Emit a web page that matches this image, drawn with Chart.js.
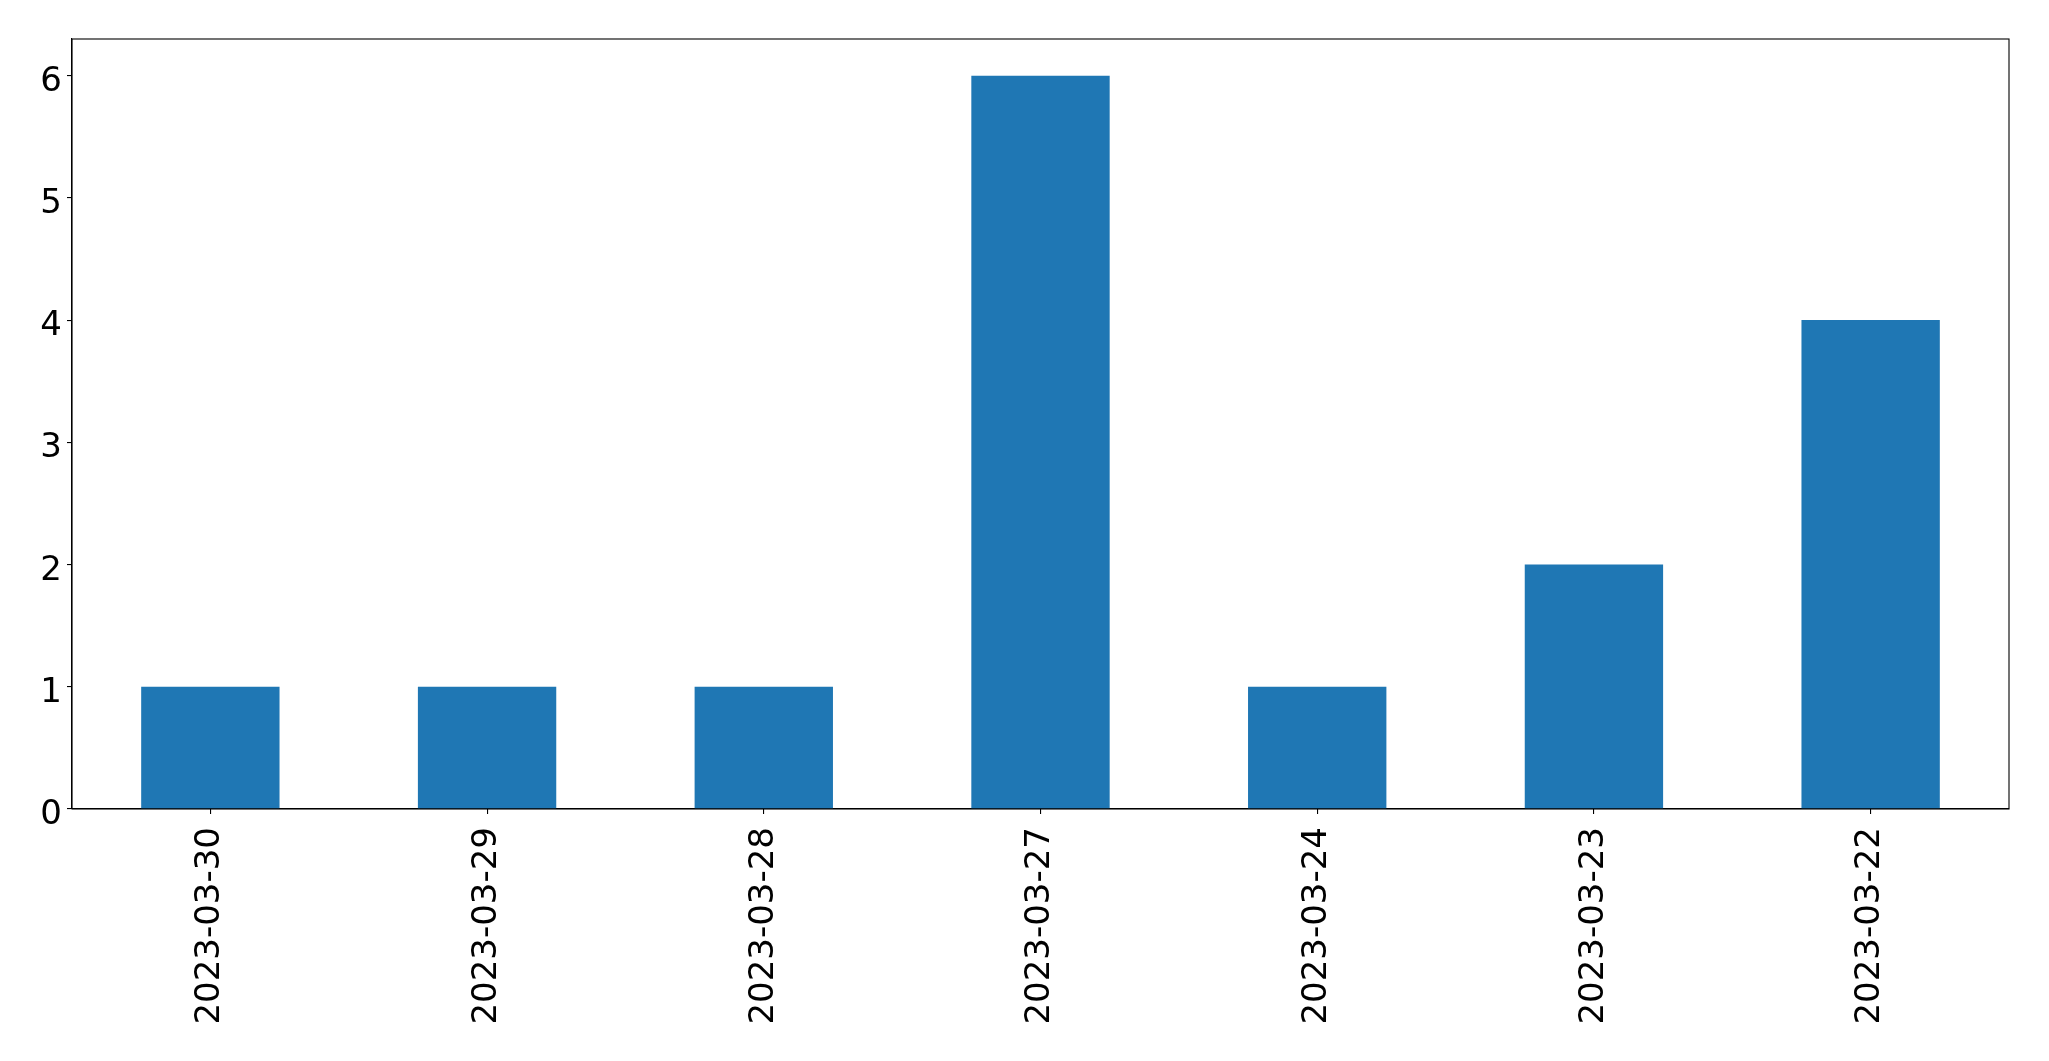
<!DOCTYPE html>
<html>
<head>
<meta charset="utf-8">
<script src="https://cdn.jsdelivr.net/npm/chart.js@4/dist/chart.umd.min.js"></script>
<style>
  html, body { margin: 0; padding: 0; background: #fff; }
  #wrap { width: 2049px; height: 1061px; }
</style>
</head>
<body>
<div id="wrap"><canvas id="chart" width="2049" height="1061"></canvas></div>
<script>
const dates = ['2023-03-30', '2023-03-29', '2023-03-28', '2023-03-27', '2023-03-24', '2023-03-23', '2023-03-22'];
const counts = [1, 1, 1, 6, 1, 2, 4];
const yTicks = [0, 1, 2, 3, 4, 5, 6];

// full box around the plot area, like matplotlib spines
const frameBox = {
    id: 'frameBox',
    afterDraw(chart) {
        const { ctx, chartArea } = chart;
        ctx.save();
        ctx.strokeStyle = '#000';
        ctx.lineWidth = 1.1;
        ctx.strokeRect(chartArea.left, chartArea.top, chartArea.right - chartArea.left, chartArea.bottom - chartArea.top);
        ctx.restore();
    }
};

// y tick labels drawn on the digit centre (matplotlib style), from the y scale
const yLabels = {
    id: 'yLabels',
    afterDraw(chart) {
        const { ctx } = chart;
        const y = chart.scales.y;
        ctx.save();
        ctx.fillStyle = '#000';
        ctx.font = '34px "DejaVu Sans"';
        ctx.textAlign = 'right';
        ctx.textBaseline = 'alphabetic';
        y.ticks.forEach(t => {
            ctx.fillText(String(t.value), y.right - 10, y.getPixelForValue(t.value) + 15);
        });
        ctx.restore();
    }
};

const ctx = document.getElementById('chart').getContext('2d');
new Chart(ctx, {
    type: 'bar',
    data: {
        labels: dates,
        datasets: [{
            data: counts,
            backgroundColor: '#1f77b4',
            borderWidth: 0,
            categoryPercentage: 1.0,
            barPercentage: 0.5,
        }],
    },
    options: {
        responsive: false,
        animation: false,
        devicePixelRatio: 1,
        layout: {
            padding: { top: 39, right: 40, left: 0, bottom: 0 }
        },
        plugins: {
            legend: { display: false },
            tooltip: { enabled: false },
        },
        scales: {
            x: {
                offset: true,
                grid: {
                    display: true,
                    offset: false,
                    drawOnChartArea: false,
                    drawTicks: true,
                    tickLength: 5,
                    color: '#000',
                    lineWidth: 1.1,
                },
                border: { display: true, color: '#000', width: 1.1 },
                ticks: {
                    color: '#000',
                    font: { family: 'DejaVu Sans', size: 34 },
                    minRotation: 90,
                    maxRotation: 90,
                    autoSkip: false,
                    padding: 13,
                },
                afterFit(scale) { scale.height = 252; },
            },
            y: {
                min: 0,
                max: 6.3,
                afterBuildTicks(scale) {
                    scale.ticks = yTicks.map(v => ({ value: v }));
                },
                grid: {
                    display: true,
                    drawOnChartArea: false,
                    drawTicks: true,
                    tickLength: 5,
                    color: '#000',
                    lineWidth: 1.1,
                },
                border: { display: true, color: '#000', width: 1.1 },
                ticks: {
                    display: false,
                },
                afterFit(scale) { scale.width = 72; },
            },
        },
    },
    plugins: [frameBox, yLabels],
});
</script>
</body>
</html>
